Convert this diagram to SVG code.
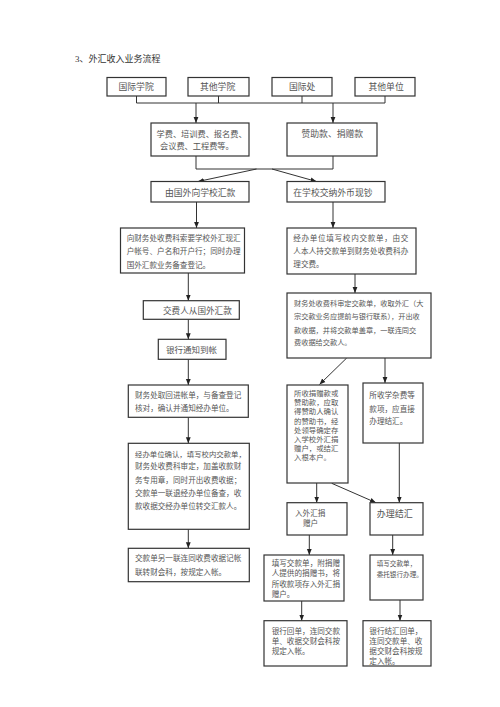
<svg xmlns="http://www.w3.org/2000/svg" width="500" height="707" viewBox="0 0 500 707">
<defs>
<marker id="ah" markerUnits="userSpaceOnUse" markerWidth="6" markerHeight="6" viewBox="0 0 6 6" refX="6" refY="3" orient="auto">
<path d="M0,0.6 L6,3 L0,5.4 z" fill="#222"/>
</marker>
<style>
.b{fill:#fff;stroke:#333;stroke-width:1.2}
.t{font-family:"Liberation Serif","Noto Sans CJK SC",serif;fill:#555}
.s{font-size:7.6px}
.m{font-size:8.8px}
.c{stroke:#333;stroke-width:1;fill:none}
.a{stroke:#333;stroke-width:1;fill:none;marker-end:url(#ah)}
</style>
</defs>
<rect width="500" height="707" fill="#fff"/>
<text class="t" x="75" y="61.5" font-size="9" fill="#333" style="fill:#333">3、外汇收入业务流程</text>

<g id="connectors">
<path class="c" d="M136.5,96 V103 M218.5,96 V103 M302,96 V103 M385,96 V103 M136.5,103 H385"/>
<path class="a" d="M196,103 V123"/>
<path class="a" d="M333,103 V123"/>
<path class="c" d="M196,156 V169 H333 V156"/>
<path class="a" d="M256.5,169 L198,181.5"/>
<path class="a" d="M272,169 L316.5,181.5"/>
<path class="a" d="M196.5,202 V228"/>
<path class="a" d="M333,202 V228"/>
<path class="a" d="M188.3,273 V300.7"/>
<path class="a" d="M188.3,319.3 V339.3"/>
<path class="a" d="M188.3,359.3 V385"/>
<path class="a" d="M188.3,417.3 V443.3"/>
<path class="a" d="M188.3,529.3 V548.3"/>
<path class="a" d="M355,274 V293"/>
<path class="a" d="M346.7,358 L319.5,384.5"/>
<path class="a" d="M385,358 V383"/>
<path class="a" d="M316.7,483 V502.7"/>
<path class="a" d="M331.7,483.3 L376,502.7"/>
<path class="a" d="M399.3,443 V502.7"/>
<path class="a" d="M309.3,535 V555"/>
<path class="a" d="M392.7,535 V555"/>
<path class="a" d="M301.7,601 V620.7"/>
<path class="a" d="M400,600 V620.7"/>
</g>

<g id="n-guoji-xueyuan"><rect class="b" x="107" y="77.5" width="59" height="18.5"/><text class="t m" x="118.5" y="90.4">国际学院</text></g>
<g id="n-qita-xueyuan"><rect class="b" x="188" y="77.5" width="61" height="18.5"/><text class="t m" x="200" y="90.4">其他学院</text></g>
<g id="n-guoji-chu"><rect class="b" x="272" y="77.5" width="60" height="18.5"/><text class="t m" x="289" y="90.4">国际处</text></g>
<g id="n-qita-danwei"><rect class="b" x="355" y="77.5" width="60" height="18.5"/><text class="t m" x="368.5" y="90.4">其他单位</text></g>

<g id="n-xuefei"><rect class="b" x="151" y="123" width="98" height="33"/>
<text class="t" font-size="8.2" x="156.5" y="137">学费、培训费、报名费、</text>
<text class="t" font-size="8.2" x="160" y="149">会议费、工程费等。</text></g>
<g id="n-zanzhu"><rect class="b" x="287" y="123" width="90" height="33"/>
<text class="t m" x="301.5" y="137.2">赞助款、捐赠款</text></g>

<g id="n-guowai-huikuan"><rect class="b" x="151" y="181.5" width="98" height="20.5"/><text class="t m" x="165" y="195.8">由国外向学校汇款</text></g>
<g id="n-waibi-xianchao"><rect class="b" x="287" y="181.5" width="98" height="20.5"/><text class="t m" x="293.3" y="195.8">在学校交纳外币现钞</text></g>

<g id="n-suoyao"><rect class="b" x="120.5" y="228" width="124" height="45"/>
<text class="t s" x="126.7" y="241">向财务处收费科索要学校外汇现汇</text>
<text class="t s" x="126.7" y="254.4">户帐号、户名和开户行；同时办理</text>
<text class="t s" x="126.7" y="267.7">国外汇款业务备查登记。</text></g>

<g id="n-tianxie"><rect class="b" x="287" y="228" width="129" height="46"/>
<text class="t s" x="293.3" y="241.2" textLength="115" lengthAdjust="spacing">经办单位填写校内交款单，由交</text>
<text class="t s" x="293.3" y="254" textLength="115" lengthAdjust="spacing">人本人持交款单到财务处收费科办</text>
<text class="t s" x="293.3" y="267">理交费。</text></g>

<g id="n-shending"><rect class="b" x="287" y="293" width="144" height="65"/>
<text class="t" font-size="7.2" x="294" y="306">财务处收费科审定交款单，收取外汇（大</text>
<text class="t" font-size="7.2" x="294" y="319.4">宗交款业务应提前与银行联系），开出收</text>
<text class="t" font-size="7.2" x="294" y="332.7">款收据，并将交款单盖章，一联连同交</text>
<text class="t" font-size="7.2" x="294" y="345.4">费收据给交款人。</text></g>

<g id="n-jiaofeiren"><rect class="b" x="143.3" y="300.7" width="96" height="18.6"/><text class="t" font-size="8.6" x="163" y="313.8">交费人从国外汇款</text></g>
<g id="n-yinhang-tongzhi"><rect class="b" x="158.3" y="339.3" width="67.7" height="20"/><text class="t" font-size="8.5" x="166" y="353">银行通知到帐</text></g>

<g id="n-quhui"><rect class="b" x="128.3" y="385" width="120" height="32.3"/>
<text class="t s" x="135" y="397.8">财务处取回进帐单，与备查登记</text>
<text class="t s" x="135" y="411">核对，确认并通知经办单位。</text></g>

<g id="n-queren"><rect class="b" x="128.3" y="443.3" width="121" height="86"/>
<text class="t" font-size="7.4" x="135" y="456.7">经办单位确认，填写校内交款单，</text>
<text class="t s" x="135" y="469.4">财务处收费科审定，加盖收款财</text>
<text class="t s" x="135" y="482.7">务专用章，同时开出收费收据；</text>
<text class="t s" x="135" y="496">交款单一联退经办单位备查，收</text>
<text class="t s" x="135" y="509.4">款收据交经办单位转交汇款人。</text></g>

<g id="n-lingyilian"><rect class="b" x="128.3" y="548.3" width="121" height="33.4"/>
<text class="t s" x="135" y="561">交款单另一联连同收费收据记帐</text>
<text class="t s" x="135" y="575.4">联转财会科，按规定入帐。</text></g>

<g id="n-juanzeng"><rect class="b" x="287" y="385" width="61" height="98"/>
<text class="t" font-size="7.4" x="294" y="396">所收捐赠款或</text>
<text class="t" font-size="7.4" x="294" y="405.2">赞助款，应取</text>
<text class="t" font-size="7.4" x="294" y="414.4">得赞助人确认</text>
<text class="t" font-size="7.4" x="294" y="423.6">的赞助书，经</text>
<text class="t" font-size="7.4" x="294" y="432.8">处领导确定存</text>
<text class="t" font-size="7.4" x="294" y="442">入学校外汇捐</text>
<text class="t" font-size="7.4" x="294" y="451.2">赠户，或结汇</text>
<text class="t" font-size="7.4" x="294" y="460.4">入根本户。</text></g>

<g id="n-xuezafei"><rect class="b" x="363" y="383" width="60" height="60"/>
<text class="t s" x="369.3" y="397.8">所收学杂费等</text>
<text class="t s" x="369.3" y="412">款项，应直接</text>
<text class="t s" x="369.3" y="424.4">办理结汇。</text></g>

<g id="n-ru-juanzenghu"><rect class="b" x="287" y="502.7" width="60" height="32.3"/>
<text class="t s" x="295" y="515.5">入外汇捐</text>
<text class="t s" x="303" y="525.5">赠户</text></g>
<g id="n-banli-jiehui"><rect class="b" x="370" y="502.7" width="53" height="32.3"/>
<text class="t" font-size="9" x="376.7" y="516.5">办理结汇</text></g>

<g id="n-tianxie-juanzeng"><rect class="b" x="264" y="555" width="80" height="46"/>
<text class="t s" x="271.7" y="565.7">填写交款单，附捐赠</text>
<text class="t s" x="271.7" y="576.2">人提供的捐赠书，将</text>
<text class="t s" x="271.7" y="586.7">所收款项存入外汇捐</text>
<text class="t s" x="271.7" y="597.2">赠户。</text></g>
<g id="n-tianxie-weituo"><rect class="b" x="370" y="555" width="53" height="45"/>
<text class="t" font-size="6.6" x="376.7" y="566">填写交款单，</text>
<text class="t" font-size="6.6" x="376.7" y="577">委托银行办理。</text></g>

<g id="n-huidan"><rect class="b" x="264" y="620.7" width="83" height="45.3"/>
<text class="t s" x="271.7" y="634.4">银行回单，连同交款</text>
<text class="t s" x="271.7" y="644.4">单、收据交财会科按</text>
<text class="t s" x="271.7" y="654.4">规定入帐。</text></g>
<g id="n-jiehui-huidan"><rect class="b" x="363" y="620.7" width="68" height="45.3"/>
<text class="t s" x="369.3" y="634.4">银行结汇回单，</text>
<text class="t s" x="369.3" y="644.4">连同交款单、收</text>
<text class="t s" x="369.3" y="654.4">据交财会科按规</text>
<text class="t s" x="369.3" y="664.4">定入帐。</text></g>
</svg>
